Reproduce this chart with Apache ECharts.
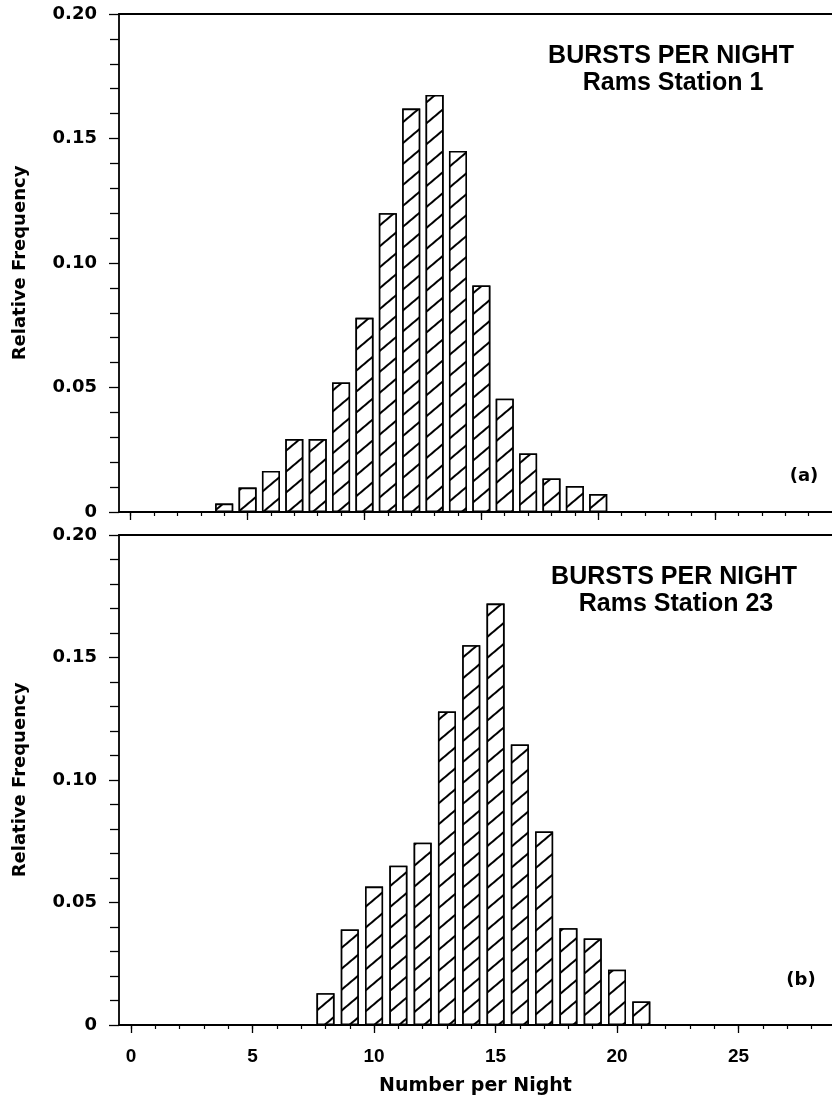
<!DOCTYPE html>
<html>
<head>
<meta charset="utf-8">
<script src="https://cdn.jsdelivr.net/npm/echarts@6/dist/echarts.min.js"></script>
<style>
    html, body { margin: 0; padding: 0; background: #fff; }
    #main { width: 832px; height: 1100px; }
</style>
</head>
<body>
<div id="main"></div>
<script>
// (a) Rams Station 1
const nightsA = [4, 5, 6, 7, 8, 9, 10, 11, 12, 13, 14, 15, 16, 17, 18, 19, 20];
const freqA = [0.0034, 0.0098, 0.0165, 0.0293, 0.0293, 0.052, 0.078, 0.120, 0.162, 0.1675, 0.145, 0.091, 0.0455, 0.0235, 0.0135, 0.0104, 0.0072];

// (b) Rams Station 23
const nightsB = [8, 9, 10, 11, 12, 13, 14, 15, 16, 17, 18, 19, 20, 21];
const freqB = [0.013, 0.039, 0.0565, 0.065, 0.0744, 0.128, 0.155, 0.172, 0.1145, 0.079, 0.0395, 0.0353, 0.0226, 0.0096];

const xMajor = [0, 5, 10, 15, 20, 25];
const xMinor = [0, 1, 2, 3, 4, 5, 6, 7, 8, 9, 10, 11, 12, 13, 14, 15, 16, 17, 18, 19, 20, 21, 22, 23, 24, 25, 26, 27, 28, 29];
const titleLine1 = 'BURSTS PER NIGHT';
const subtitles = ['Rams Station 1', 'Rams Station 23'];
const panelTags = ['(a)', '(b)'];

const chart = echarts.init(document.getElementById('main'));
const black = '#000';
const wideFont = 'DejaVu Sans';
const plainFont = 'Liberation Sans';

function hatch() {
    return {
        symbol: 'rect',
        color: black,
        backgroundColor: '#fff',
        dashArrayX: [1, 0],
        dashArrayY: [1.2, 14],
        rotation: -0.7
    };
}

function majorAxis(grid, max, withLabels) {
    return {
        gridIndex: grid,
        type: 'value',
        position: 'bottom',
        min: -0.5,
        max: max,
        axisLine: { show: true, onZero: false, lineStyle: { color: black, width: 1.8 } },
        axisTick: { show: true, customValues: xMajor, length: 8, lineStyle: { color: black, width: 1.3 } },
        axisLabel: withLabels ? {
            show: true,
            customValues: xMajor,
            margin: 22,
            fontFamily: plainFont,
            fontWeight: 'bold',
            fontSize: 19,
            color: black
        } : { show: false },
        splitLine: { show: false },
        name: withLabels ? 'Number per Night' : '',
        nameLocation: 'middle',
        nameGap: 52,
        nameTextStyle: { fontFamily: wideFont, fontWeight: 'bold', fontSize: 19, color: black }
    };
}

function minorAxis(grid, max) {
    return {
        gridIndex: grid,
        type: 'value',
        position: 'bottom',
        min: -0.5,
        max: max,
        axisLine: { show: false, onZero: false },
        axisTick: { show: true, customValues: xMinor, length: 4, lineStyle: { color: black, width: 1.2 } },
        axisLabel: { show: false },
        splitLine: { show: false }
    };
}

function topLine(grid, max) {
    return {
        gridIndex: grid,
        type: 'value',
        position: 'top',
        min: -0.5,
        max: max,
        axisLine: { show: true, onZero: false, lineStyle: { color: black, width: 1.8 } },
        axisTick: { show: false },
        axisLabel: { show: false },
        splitLine: { show: false }
    };
}

function freqAxis(grid) {
    return {
        gridIndex: grid,
        type: 'value',
        min: 0,
        max: 0.2,
        interval: 0.05,
        axisLine: { show: true, onZero: false, lineStyle: { color: black, width: 1.8 } },
        axisTick: { show: true, length: 10, lineStyle: { color: black, width: 1.3 } },
        minorTick: { show: true, splitNumber: 5, length: 9, lineStyle: { color: black, width: 1.3 } },
        splitLine: { show: false },
        minorSplitLine: { show: false },
        axisLabel: {
            margin: 22,
            formatter: v => (v === 0 ? '0' : v.toFixed(2)),
            fontFamily: wideFont,
            fontWeight: 'bold',
            fontSize: 18,
            color: black
        },
        name: 'Relative Frequency',
        nameLocation: 'middle',
        nameRotate: 90,
        nameGap: 90,
        nameTextStyle: { fontFamily: wideFont, fontWeight: 'bold', fontSize: 18, color: black }
    };
}

function bars(xIdx, yIdx, nights, freq) {
    return {
        type: 'bar',
        xAxisIndex: xIdx,
        yAxisIndex: yIdx,
        barWidth: 18,
        silent: true,
        itemStyle: { color: '#fff', borderColor: black, borderWidth: 1.6, decal: hatch() },
        data: nights.map((n, i) => [n, freq[i]])
    };
}

function text(x, y, str, font) {
    return {
        type: 'text',
        x: x,
        y: y,
        style: { text: str, font: font, fill: black, textAlign: 'center', textVerticalAlign: 'middle' }
    };
}

const titleFont = 'bold 25px "Liberation Sans"';
const tagFont = 'bold 18px "DejaVu Sans"';

chart.setOption({
    animation: false,
    backgroundColor: '#fff',
    grid: [
        { left: 119, right: 0, top: 14, height: 498 },
        { left: 119, right: 0, top: 535, height: 490 }
    ],
    xAxis: [
        majorAxis(0, 30, false),
        minorAxis(0, 30),
        topLine(0, 30),
        majorAxis(1, 28.85, true),
        minorAxis(1, 28.85),
        topLine(1, 28.85)
    ],
    yAxis: [freqAxis(0), freqAxis(1)],
    series: [
        bars(0, 0, nightsA, freqA),
        bars(3, 1, nightsB, freqB)
    ],
    graphic: [
        text(671, 56, titleLine1, titleFont),
        text(673, 83, subtitles[0], titleFont),
        text(674, 577, titleLine1, titleFont),
        text(676, 604, subtitles[1], titleFont),
        text(804, 476, panelTags[0], tagFont),
        text(801, 980, panelTags[1], tagFont)
    ]
});

window.addEventListener('resize', () => {
    chart.resize();
});
</script>
</body>
</html>
